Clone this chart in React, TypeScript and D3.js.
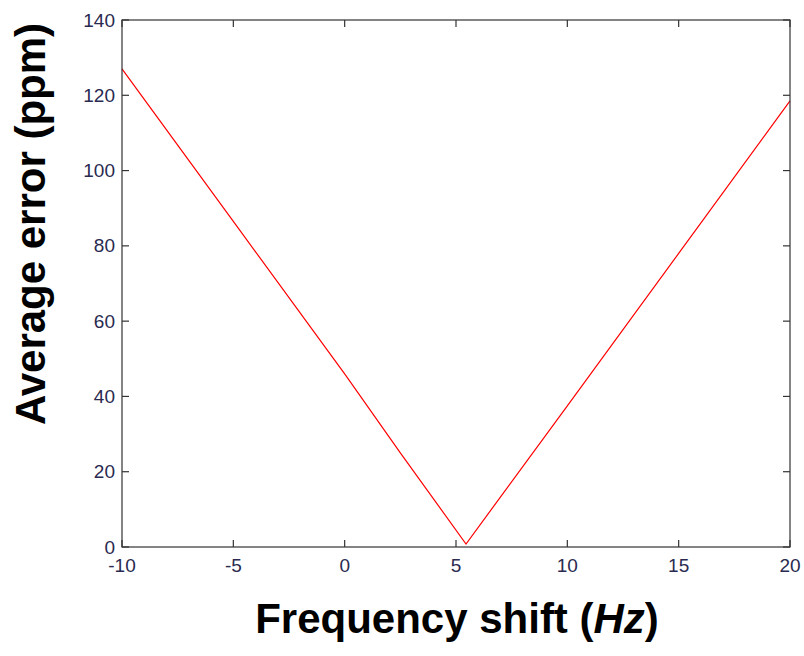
import React from "react";
import * as d3 from "d3";

const xShift = [-10, -5, 0, 2.5, 5.45, 10, 15, 20];
const yError = [127, 86.5, 46, 25, 0.8, 37.5, 78, 118.5];
const xTicks = [-10, -5, 0, 5, 10, 15, 20];
const yTicks = [0, 20, 40, 60, 80, 100, 120, 140];

const W = 804, H = 656;
const L = 122, R = 790, T = 20, B = 547;

export default function App() {
  const x = d3.scaleLinear().domain([-10, 20]).range([L, R]);
  const y = d3.scaleLinear().domain([0, 140]).range([B, T]);
  const line = d3.line<number>().x((_, i) => x(xShift[i])).y((d) => y(d));
  const tl = 7;
  const axisColor = "#333";
  const tickColor = "#2a2a50";
  return (
    <svg width={W} height={H} style={{ position: "absolute", left: 0, top: 0, background: "#fff" }}>
      <rect x={0} y={0} width={W} height={H} fill="#fff" />
      <path d={line(yError) || ""} fill="none" stroke="#ff0000" strokeWidth={1.2} />
      <rect x={L} y={T} width={R - L} height={B - T} fill="none" stroke={axisColor} strokeWidth={1.2} />
      {xTicks.map((t) => (
        <g key={"x" + t}>
          <line x1={x(t)} x2={x(t)} y1={B} y2={B - tl} stroke={axisColor} strokeWidth={1.2} />
          <line x1={x(t)} x2={x(t)} y1={T} y2={T + tl} stroke={axisColor} strokeWidth={1.2} />
          <text x={x(t)} y={B + 25} textAnchor="middle" fontFamily="Liberation Sans, Arial, sans-serif" fontSize={19} fill={tickColor}>
            {t}
          </text>
        </g>
      ))}
      {yTicks.map((t) => (
        <g key={"y" + t}>
          <line x1={L} x2={L + tl} y1={y(t)} y2={y(t)} stroke={axisColor} strokeWidth={1.2} />
          <line x1={R} x2={R - tl} y1={y(t)} y2={y(t)} stroke={axisColor} strokeWidth={1.2} />
          <text x={L - 7} y={y(t) + 6.5} textAnchor="end" fontFamily="Liberation Sans, Arial, sans-serif" fontSize={19} fill={tickColor}>
            {t}
          </text>
        </g>
      ))}
      <text x={457} y={633} textAnchor="middle" fontFamily="Liberation Sans, Arial, sans-serif" fontSize={42} fontWeight="bold" fill="#000">
        Frequency shift (<tspan fontStyle="italic">Hz</tspan>)
      </text>
      <text transform="translate(45,224) rotate(-90)" textAnchor="middle" fontFamily="Liberation Sans, Arial, sans-serif" fontSize={42} fontWeight="bold" fill="#000">
        Average error (ppm)
      </text>
    </svg>
  );
}
